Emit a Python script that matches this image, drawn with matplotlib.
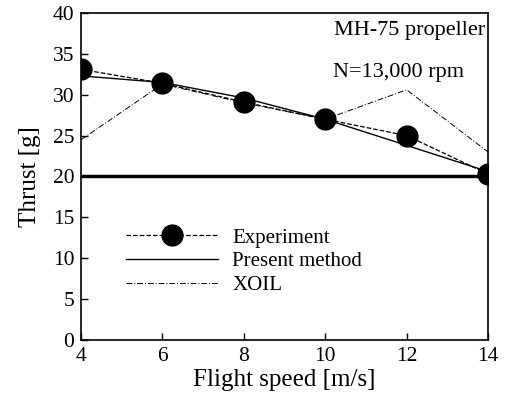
import matplotlib
matplotlib.use('Agg')
import matplotlib.pyplot as plt

plt.rcParams['font.family'] = ['Liberation Serif', 'DejaVu Serif']

speed = [4, 6, 8, 10, 12, 14]
experiment = [33.1, 31.4, 29.1, 27.0, 25.0, 20.3]
present = [32.3, 31.5, 29.6, 27.0, 23.8, 20.6]
xoil = [24.5, 31.3, 29.0, 27.0, 30.6, 23.0]

fig = plt.figure(figsize=(5.07, 3.93), dpi=100)
ax = fig.add_axes([0.16, 0.135, 0.8025, 0.832])

ax.axhline(20, color='black', lw=2.5, zorder=1)
ax.plot(speed, experiment, 'k--', lw=0.9, marker='o', ms=15, label='Experiment', zorder=3)
ax.plot(speed, present, 'k-', lw=1.0, label='Present method', zorder=2)
ax.plot(speed, xoil, color='black', lw=0.7, ls=(0, (6, 2, 1, 2)), label='XOIL', zorder=2)

ax.set_xlim(4, 14)
ax.set_ylim(0, 40)
ax.set_xticks([4, 6, 8, 10, 12, 14])
ax.set_yticks(range(0, 41, 5))
ax.tick_params(direction='in', length=5, labelsize=15.5, width=1, pad=5)
for s in ax.spines.values():
    s.set_linewidth(1.2)

ax.set_xlabel('Flight speed [m/s]', fontsize=18, labelpad=2)
ax.set_ylabel('Thrust [g]', fontsize=18, labelpad=8)

ax.text(13.93, 37.9, 'MH-75 propeller', fontsize=16, ha='right', va='center')
ax.text(10.19, 32.7, 'N=13,000 rpm', fontsize=16, ha='left', va='center')

ax.legend(loc='lower left', bbox_to_anchor=(0.085, 0.105), frameon=False, fontsize=15,
          handlelength=4.4, handletextpad=0.7, labelspacing=0.2, borderpad=0)

fig.savefig('out.png', dpi=100)
